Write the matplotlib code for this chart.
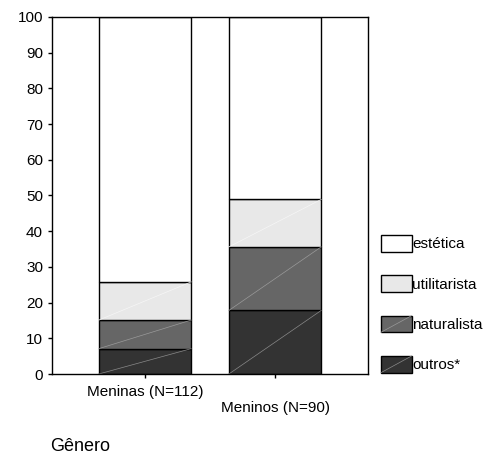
import numpy as np
from matplotlib import pyplot as plt
from matplotlib.patches import Patch, Rectangle
from matplotlib.lines import Line2D
from matplotlib.legend_handler import HandlerPatch

plt.rcParams['font.family'] = ['Liberation Sans', 'DejaVu Sans']

groups = ['Meninas (N=112)', 'Meninos (N=90)']
# percentages (bottom to top)
outros = np.array([7.1, 17.8])
naturalista = np.array([8.0, 17.8])
utilitarista = np.array([10.7, 13.3])
estetica = np.array([74.2, 51.1])

series = [('outros*', outros, '#333333', '#8a8a8a'),
          ('naturalista', naturalista, '#666666', '#9a9a9a'),
          ('utilitarista', utilitarista, '#e8e8e8', '#f6f6f6'),
          ('estética', estetica, '#ffffff', None)]


class DiagHandler(HandlerPatch):
    def create_artists(self, legend, orig_handle, xdescent, ydescent,
                       width, height, fontsize, trans):
        r = Rectangle((-xdescent, -ydescent), width, height,
                      facecolor=orig_handle.get_facecolor(),
                      edgecolor='black', linewidth=1.0, transform=trans)
        out = [r]
        lc = orig_handle.get_gid()
        if lc:
            out.append(Line2D([-xdescent, -xdescent + width],
                              [-ydescent, -ydescent + height],
                              color=lc, linewidth=0.5, transform=trans))
        return out


fig = plt.figure(figsize=(5.04, 4.69), dpi=100)
ax = fig.add_axes([52/504, 1-374/469, 316/504, 357/469])

x = np.arange(len(groups))
w = 0.71
bottom = np.zeros(len(groups))
for name, vals, col, lc in series:
    ax.bar(x, vals, w, bottom=bottom, color=col, edgecolor='black', linewidth=1.0)
    if lc:
        for xi, b, v in zip(x, bottom, vals):
            ax.plot([xi - w/2, xi + w/2], [b, b + v], color=lc, linewidth=0.5)
    bottom = bottom + vals

ax.set_xlim(-0.715, 1.715)
ax.set_ylim(0, 100)
ax.set_yticks(np.arange(0, 101, 10))
ax.set_xticks(x)
ax.set_xticklabels([groups[0], '\n' + groups[1]])
ax.tick_params(axis='both', labelsize=11, length=3, width=1, color='black')
ax.tick_params(axis='x', pad=5)
for s in ax.spines.values():
    s.set_linewidth(1.0)

fig.text(50/504, 1-446/469, 'Gênero', fontsize=13, va='center', ha='left')

handles = []
for name, vals, col, lc in series[::-1]:
    p = Patch(facecolor=col, label=name)
    if lc and col != '#e8e8e8':
        p.set_gid(lc)
    handles.append(p)
fig.legend(handles=handles, loc='upper left', bbox_to_anchor=(381/504, 1-235/469),
           frameon=False, fontsize=11, handlelength=2.0, handleheight=1.3,
           handletextpad=0.05, labelspacing=1.55, borderpad=0, borderaxespad=0,
           handler_map={Patch: DiagHandler()})

plt.savefig('out.png', dpi=100)
